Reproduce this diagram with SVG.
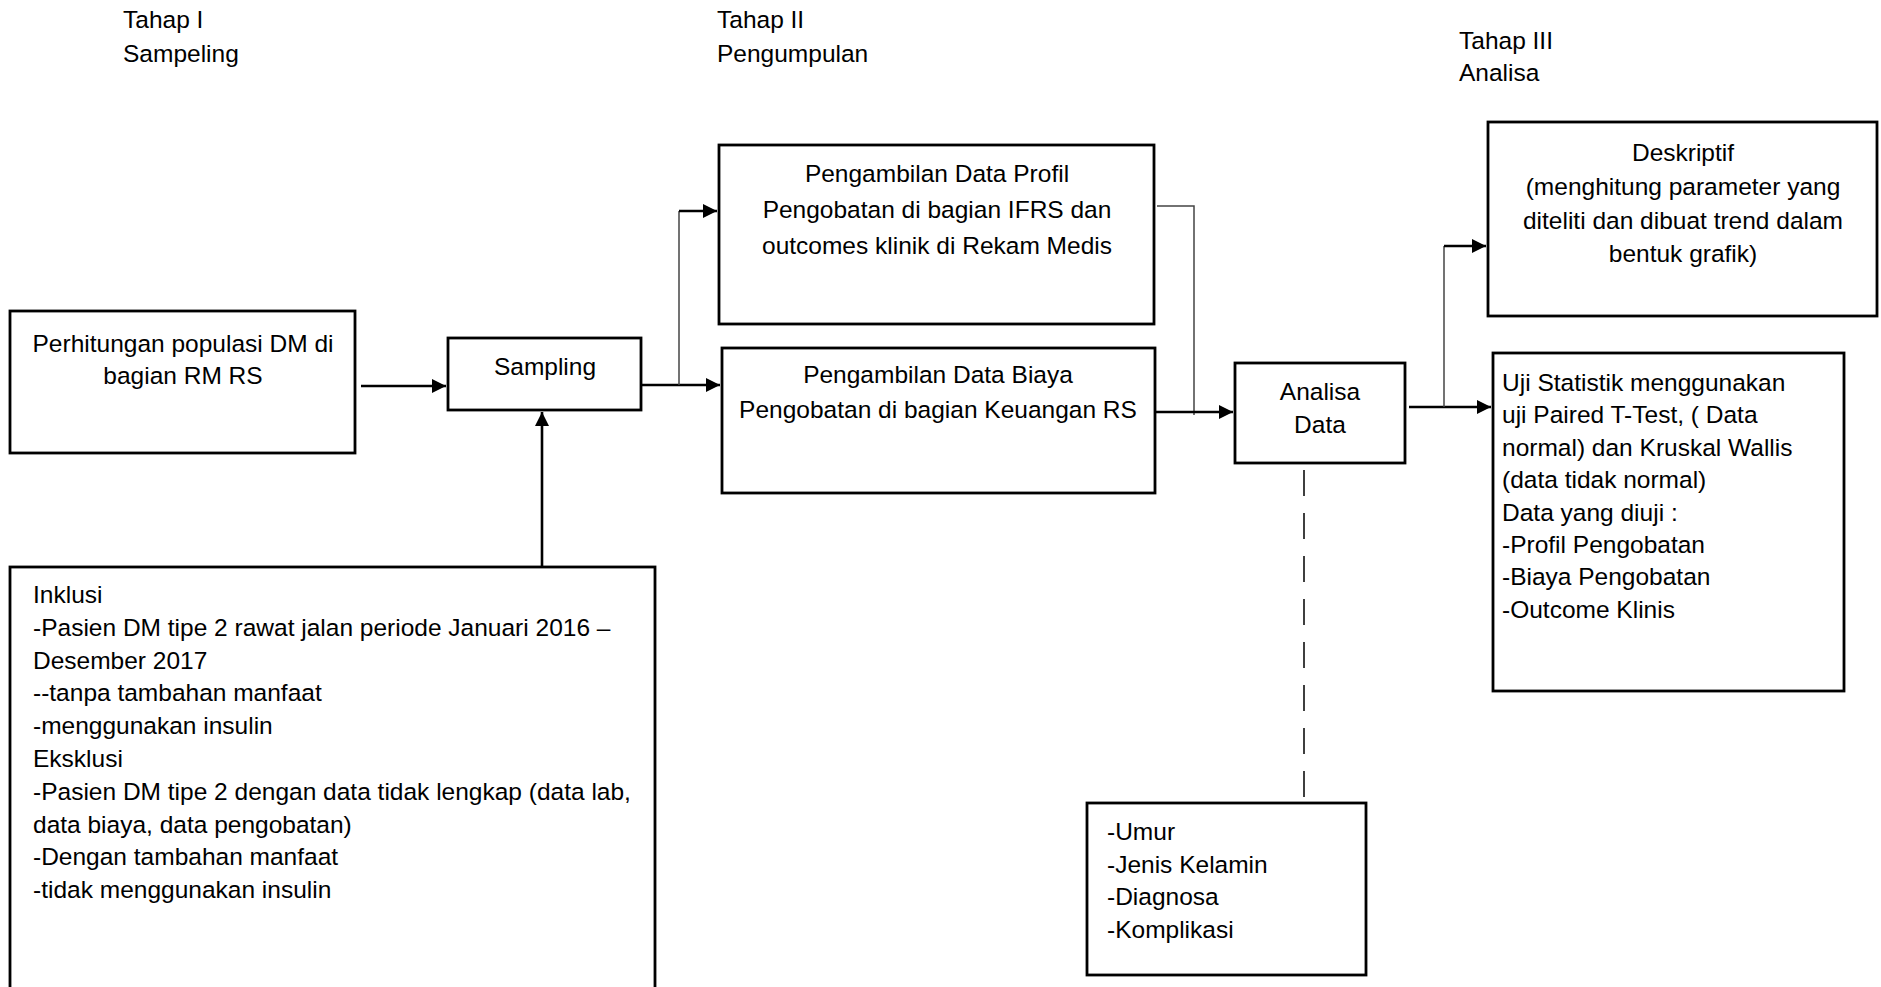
<svg xmlns="http://www.w3.org/2000/svg" width="1881" height="987" viewBox="0 0 1881 987">
<style>
.box{fill:#fff;stroke:#000;stroke-width:2.8}
.t{font-family:"Liberation Sans",Arial,sans-serif;font-size:24.5px;fill:#000}
.c{text-anchor:middle}
.thick{fill:none;stroke:#000;stroke-width:2.6}
.thin{fill:none;stroke:#444;stroke-width:1.5}
.dash{fill:none;stroke:#000;stroke-width:1.5;stroke-dasharray:26 17}
</style>
<defs>
<marker id="arr" viewBox="0 0 10 10" refX="10" refY="5" markerUnits="userSpaceOnUse" markerWidth="16" markerHeight="14" orient="auto">
<path d="M0,0 L10,5 L0,10 z" fill="#000"/>
</marker>
</defs>
<rect width="1881" height="987" fill="#fff"/>
<g id="headers" class="t">
<text x="123" y="28">Tahap I</text>
<text x="123" y="62">Sampeling</text>
<text x="717" y="28">Tahap II</text>
<text x="717" y="62">Pengumpulan</text>
<text x="1459" y="49">Tahap III</text>
<text x="1459" y="81">Analisa</text>
</g>
<g id="connectors">
<path class="thick" d="M361,386 H446" marker-end="url(#arr)"/>
<path class="thick" d="M542,567 V412" marker-end="url(#arr)"/>
<path class="thick" d="M641,385 H720" marker-end="url(#arr)"/>
<path class="thin" d="M679,385 V211"/>
<path class="thick" d="M679,211 H717" marker-end="url(#arr)"/>
<path class="thin" d="M1157,206 H1194 V415"/>
<path class="thick" d="M1155,412 H1233" marker-end="url(#arr)"/>
<path class="thick" d="M1409,407 H1491" marker-end="url(#arr)"/>
<path class="thin" d="M1444,407 V246"/>
<path class="thick" d="M1444,246 H1486" marker-end="url(#arr)"/>
<path class="dash" d="M1304,470 V797"/>
</g>
<g id="perhitungan">
<rect class="box" x="10" y="311" width="345" height="142"/>
<text class="t c" x="183" y="352">Perhitungan populasi DM di</text>
<text class="t c" x="183" y="384">bagian RM RS</text>
</g>
<g id="sampling">
<rect class="box" x="448" y="338" width="193" height="72"/>
<text class="t c" x="545" y="375">Sampling</text>
</g>
<g id="profil">
<rect class="box" x="719" y="145" width="435" height="179"/>
<text class="t c" x="937" y="182">Pengambilan Data Profil</text>
<text class="t c" x="937" y="218">Pengobatan di bagian IFRS dan</text>
<text class="t c" x="937" y="254">outcomes klinik di Rekam Medis</text>
</g>
<g id="biaya">
<rect class="box" x="722" y="348" width="433" height="145"/>
<text class="t c" x="938" y="383">Pengambilan Data Biaya</text>
<text class="t c" x="938" y="418">Pengobatan di bagian Keuangan RS</text>
</g>
<g id="analisa">
<rect class="box" x="1235" y="363" width="170" height="100"/>
<text class="t c" x="1320" y="400">Analisa</text>
<text class="t c" x="1320" y="433">Data</text>
</g>
<g id="deskriptif">
<rect class="box" x="1488" y="122" width="389" height="194"/>
<text class="t c" x="1683" y="161">Deskriptif</text>
<text class="t c" x="1683" y="195">(menghitung parameter yang</text>
<text class="t c" x="1683" y="229">diteliti dan dibuat trend dalam</text>
<text class="t c" x="1683" y="262">bentuk grafik)</text>
</g>
<g id="uji">
<rect class="box" x="1493" y="353" width="351" height="338"/>
<g class="t">
<text x="1502" y="391">Uji Statistik menggunakan</text>
<text x="1502" y="423.4">uji Paired T-Test, ( Data</text>
<text x="1502" y="455.8">normal) dan Kruskal Wallis</text>
<text x="1502" y="488.2">(data tidak normal)</text>
<text x="1502" y="520.6">Data yang diuji :</text>
<text x="1502" y="553">-Profil Pengobatan</text>
<text x="1502" y="585.4">-Biaya Pengobatan</text>
<text x="1502" y="617.8">-Outcome Klinis</text>
</g>
</g>
<g id="kriteria">
<rect class="box" x="10" y="567" width="645" height="440"/>
<g class="t">
<text x="33" y="603">Inklusi</text>
<text x="33" y="635.8">-Pasien DM tipe 2 rawat jalan periode Januari 2016 –</text>
<text x="33" y="668.6">Desember 2017</text>
<text x="33" y="701.4">--tanpa tambahan manfaat</text>
<text x="33" y="734.2">-menggunakan insulin</text>
<text x="33" y="767">Eksklusi</text>
<text x="33" y="799.8">-Pasien DM tipe 2 dengan data tidak lengkap (data lab,</text>
<text x="33" y="832.6">data biaya, data pengobatan)</text>
<text x="33" y="865.4">-Dengan tambahan manfaat</text>
<text x="33" y="898.2">-tidak menggunakan insulin</text>
</g>
</g>
<g id="karakteristik">
<rect class="box" x="1087" y="803" width="279" height="172"/>
<g class="t">
<text x="1107" y="840">-Umur</text>
<text x="1107" y="872.6">-Jenis Kelamin</text>
<text x="1107" y="905.2">-Diagnosa</text>
<text x="1107" y="937.8">-Komplikasi</text>
</g>
</g>
</svg>
